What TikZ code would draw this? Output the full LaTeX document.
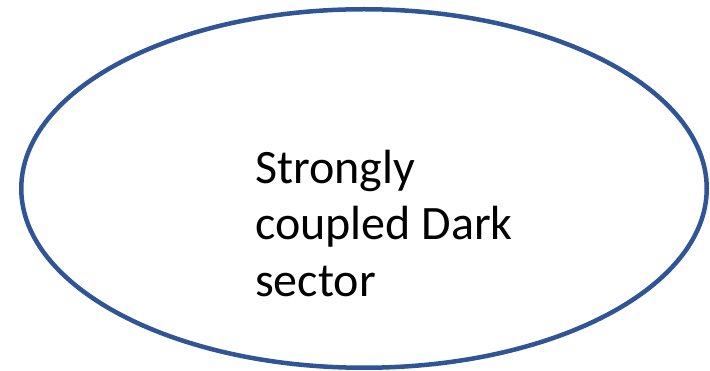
\documentclass[tikz,border=0pt]{standalone}
\usepackage{fontspec}
\setmainfont{Carlito}
\usetikzlibrary{shapes.geometric}
\definecolor{rimblue}{HTML}{2F5597}
\tikzset{
  sectorrim/.style={draw=rimblue, line width=4.5pt, fill=white},
  sectorlabel/.style={inner sep=0pt, align=left, anchor=north west,
    font=\fontsize{48pt}{56.7pt}\selectfont, text=black}
}
\begin{document}
\begin{tikzpicture}[x=1pt, y=-1pt]
  \useasboundingbox (0,0) rectangle (710,371);
  % outer ellipse
  \draw[sectorrim] (364,188.5) ellipse [x radius=342.75, y radius=179.25];
  % label
  \node[sectorlabel] (label) at (255,149.5) {Strongly\\coupled Dark\\sector};
\end{tikzpicture}
\end{document}
